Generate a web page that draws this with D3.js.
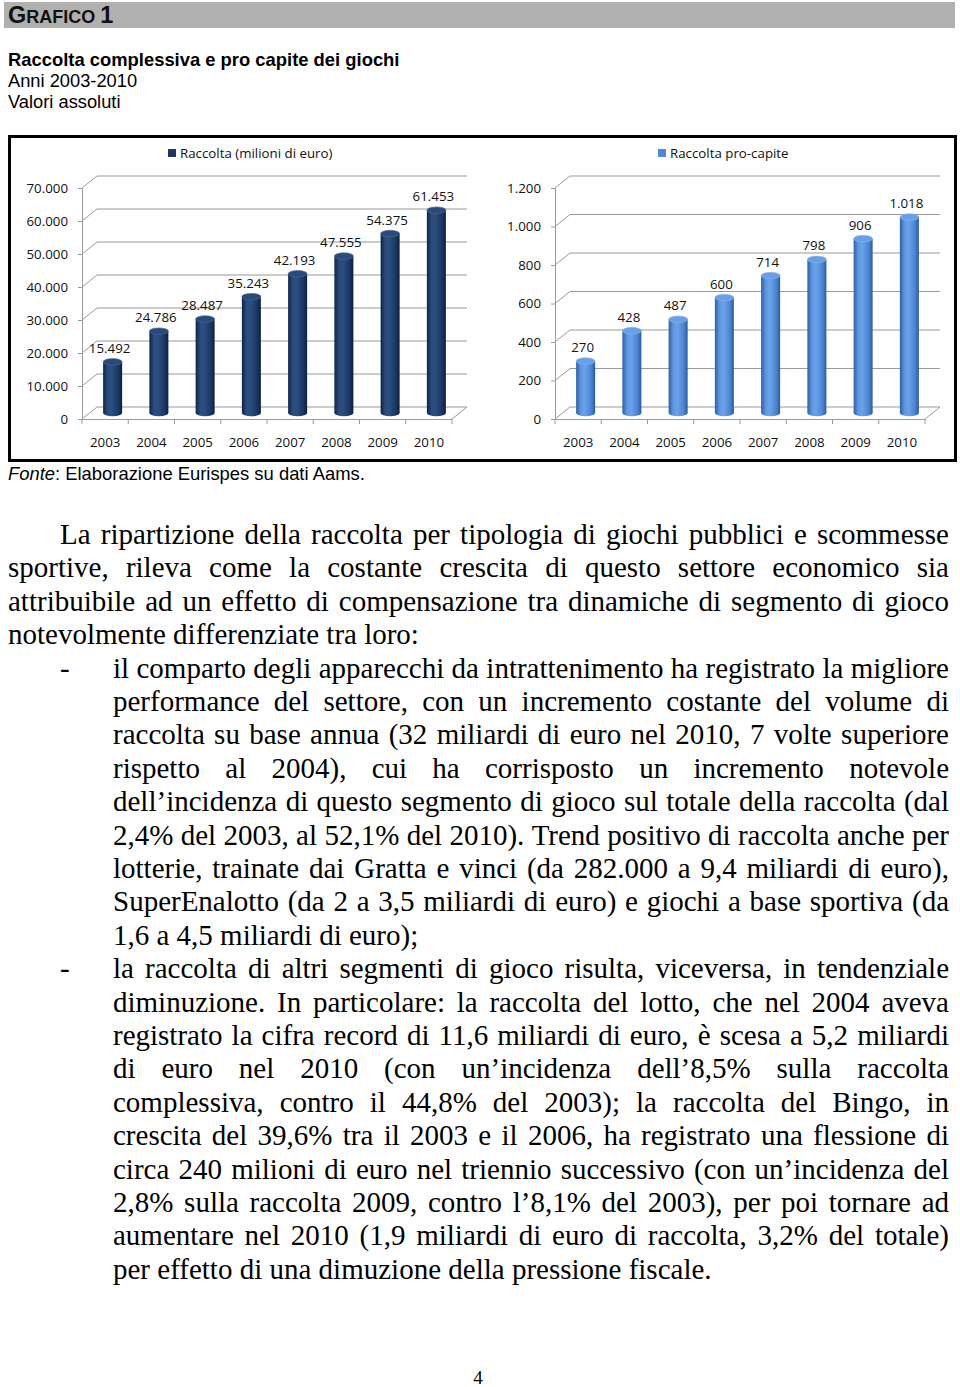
<!DOCTYPE html>
<html>
<head>
<meta charset="utf-8">
<script src="https://cdn.jsdelivr.net/npm/d3@7"></script>
<style>
html,body{margin:0;padding:0;background:#fff;}
svg{display:block;}
</style>
</head>
<body>
<svg id="page" width="960" height="1387"></svg>
<script>
// ---- DATA ----
const years = ["2003","2004","2005","2006","2007","2008","2009","2010"];
const raccolta = [15492, 24786, 28487, 35243, 42193, 47555, 54375, 61453];
const proCapite = [270, 428, 487, 600, 714, 798, 906, 1018];
const leftTicks = [0, 10000, 20000, 30000, 40000, 50000, 60000, 70000];
const rightTicks = [0, 200, 400, 600, 800, 1000, 1200];
const leftLegend = "Raccolta (milioni di euro)";
const rightLegend = "Raccolta pro-capite";

const bodyLines = [
  {t:"La ripartizione della raccolta per tipologia di giochi pubblici e scommesse", x:60, j:true},
  {t:"sportive, rileva come la costante crescita di questo settore economico sia", x:8, j:true},
  {t:"attribuibile ad un effetto di compensazione tra dinamiche di segmento di gioco", x:8, j:true},
  {t:"notevolmente differenziate tra loro:", x:8, j:false},
  {t:"il comparto degli apparecchi da intrattenimento ha registrato la migliore", x:113, j:true, b:true},
  {t:"performance del settore, con un incremento costante del volume di", x:113, j:true},
  {t:"raccolta su base annua (32 miliardi di euro nel 2010, 7 volte superiore", x:113, j:true},
  {t:"rispetto al 2004), cui ha corrisposto un incremento notevole", x:113, j:true},
  {t:"dell’incidenza di questo segmento di gioco sul totale della raccolta (dal", x:113, j:true},
  {t:"2,4% del 2003, al 52,1% del 2010). Trend positivo di raccolta anche per", x:113, j:true},
  {t:"lotterie, trainate dai Gratta e vinci  (da 282.000 a 9,4 miliardi di euro),", x:113, j:true},
  {t:"SuperEnalotto (da 2 a 3,5 miliardi di euro) e giochi a base sportiva (da", x:113, j:true},
  {t:"1,6 a 4,5 miliardi di euro);", x:113, j:false},
  {t:"la raccolta di altri segmenti di gioco risulta, viceversa, in tendenziale", x:113, j:true, b:true},
  {t:"diminuzione. In particolare: la raccolta del lotto, che nel 2004 aveva", x:113, j:true},
  {t:"registrato la cifra record di 11,6 miliardi di euro, è scesa a 5,2 miliardi", x:113, j:true},
  {t:"di euro nel 2010 (con un’incidenza dell’8,5% sulla raccolta", x:113, j:true},
  {t:"complessiva, contro il 44,8% del 2003); la raccolta del Bingo, in", x:113, j:true},
  {t:"crescita del 39,6% tra il 2003 e il 2006, ha registrato una flessione di", x:113, j:true},
  {t:"circa 240 milioni di euro nel triennio successivo (con un’incidenza del", x:113, j:true},
  {t:"2,8% sulla raccolta 2009, contro l’8,1% del 2003), per poi tornare ad", x:113, j:true},
  {t:"aumentare nel 2010 (1,9 miliardi di euro di raccolta, 3,2% del totale)", x:113, j:true},
  {t:"per effetto di una dimuzione della pressione fiscale.", x:113, j:false}
];

// ---- RENDER ----
const svg = d3.select("#page");
const it = d3.formatLocale({decimal:",", thousands:".", grouping:[3], currency:["€",""]});
const fmt = it.format(",d");
const sans = "Liberation Sans, Arial, sans-serif";

// header band
svg.append("rect").attr("x",4).attr("y",2).attr("width",951).attr("height",26).attr("fill","#b0b0b0");
const hdr = svg.append("text").attr("x",8).attr("y",23)
  .attr("font-family",sans).attr("font-weight","bold").attr("fill","#111");
hdr.append("tspan").attr("font-size",23.5).text("G");
hdr.append("tspan").attr("font-size",18).text("RAFICO ");
hdr.append("tspan").attr("font-size",23.5).text("1");

svg.append("text").attr("x",8).attr("y",66).attr("font-family",sans)
  .attr("font-weight","bold").attr("font-size",18.4).text("Raccolta complessiva e pro capite dei giochi");
svg.append("text").attr("x",8).attr("y",87).attr("font-family",sans)
  .attr("font-size",18.3).text("Anni 2003-2010");
svg.append("text").attr("x",8).attr("y",108).attr("font-family",sans)
  .attr("font-size",18.3).text("Valori assoluti");

// chart box
svg.append("rect").attr("x",9.5).attr("y",136.5).attr("width",946).attr("height",324)
  .attr("fill","none").attr("stroke","#000").attr("stroke-width",3);

const fonte = svg.append("text").attr("x",8).attr("y",480).attr("font-family",sans)
  .attr("font-size",18.4);
fonte.append("tspan").attr("font-style","italic").text("Fonte");
fonte.append("tspan").text(": Elaborazione Eurispes su dati Aams.");

// gradients
const defs = svg.append("defs");
function grad(id, stops){
  const g = defs.append("linearGradient").attr("id",id).attr("x1","0").attr("x2","1").attr("y1","0").attr("y2","0");
  stops.forEach(s=>g.append("stop").attr("offset",s[0]).attr("stop-color",s[1]));
}
grad("gDark",[[0,"#0f2346"],[0.25,"#2a4c7e"],[0.45,"#2b4e80"],[0.8,"#1a3663"],[1,"#0c1f40"]]);
grad("gLight",[[0,"#2d5fa6"],[0.25,"#5f98e2"],[0.45,"#6aa2ea"],[0.8,"#4a84d2"],[1,"#2a5aa0"]]);

const DX = 15, DY = -12;
const fontAx = "Open Sans, DejaVu Sans, sans-serif";

function drawChart(cfg){
  const g = svg.append("g");
  const x = d3.scaleBand().domain(years).range([cfg.x0, cfg.x1]).padding(0);
  const y = d3.scaleLinear().domain([0, cfg.max]).range([419, 188]);
  // gridlines on back wall
  g.selectAll("line.grid").data(cfg.ticks).join("line")
    .attr("x1", cfg.x0 + DX).attr("x2", cfg.x1 + DX)
    .attr("y1", d=>y(d)+DY).attr("y2", d=>y(d)+DY)
    .attr("stroke","#9a9a9a").attr("stroke-width",1.2);
  // side diagonals
  g.selectAll("line.diag").data(cfg.ticks).join("line")
    .attr("x1", cfg.x0).attr("x2", cfg.x0 + DX)
    .attr("y1", d=>y(d)).attr("y2", d=>y(d)+DY)
    .attr("stroke","#9a9a9a").attr("stroke-width",1);
  // floor right diagonal
  g.append("line").attr("x1",cfg.x1).attr("x2",cfg.x1+DX).attr("y1",y(0)).attr("y2",y(0)+DY)
    .attr("stroke","#9a9a9a").attr("stroke-width",1);
  // y axis
  const ya = d3.axisLeft(y).tickValues(cfg.ticks).tickFormat(fmt).tickSize(4).tickPadding(10);
  const yg = g.append("g").attr("transform",`translate(${cfg.x0},0)`).call(ya);
  yg.select(".domain").attr("stroke","#9a9a9a");
  yg.selectAll(".tick line").attr("stroke","#9a9a9a");
  yg.selectAll("text").attr("font-family",fontAx).attr("font-size",13.3).attr("fill","#111");
  // x axis
  const xa = d3.axisBottom(x).tickSize(0).tickPadding(19);
  const xg = g.append("g").attr("transform",`translate(0,${y(0)})`).call(xa);
  xg.select(".domain").attr("stroke","#9a9a9a");
  xg.selectAll("text").attr("font-family",fontAx).attr("font-size",13.3).attr("fill","#111");
  // x ticks at band boundaries
  const bounds = years.map(d=>x(d)).concat([cfg.x1]);
  g.selectAll("line.xt").data(bounds).join("line")
    .attr("x1",d=>d).attr("x2",d=>d).attr("y1",y(0)).attr("y2",y(0)+5)
    .attr("stroke","#9a9a9a");
  // bars (cylinders)
  const bw = 19, ry = 3.3;
  const cx = d => x(d) + x.bandwidth()/2 + DX/2;
  const bars = g.selectAll("g.bar").data(years.map((d,i)=>({k:d,v:cfg.vals[i]}))).join("g");
  bars.append("ellipse").attr("cx",d=>cx(d.k)).attr("cy",y(0)+DY/2).attr("rx",bw/2).attr("ry",ry)
    .attr("fill",`url(#${cfg.grad})`);
  bars.append("rect").attr("x",d=>cx(d.k)-bw/2).attr("width",bw)
    .attr("y",d=>y(d.v)+DY/2).attr("height",d=>y(0)-y(d.v))
    .attr("fill",`url(#${cfg.grad})`);
  bars.append("ellipse").attr("cx",d=>cx(d.k)).attr("cy",d=>y(d.v)+DY/2).attr("rx",bw/2).attr("ry",ry)
    .attr("fill",cfg.top).attr("stroke",cfg.topStroke).attr("stroke-width",0.6);
  // value labels
  bars.append("text").attr("x",d=>cx(d.k)-3).attr("y",d=>y(d.v)+DY/2-9)
    .attr("text-anchor","middle").attr("font-family",fontAx).attr("font-size",13.3).attr("fill","#111")
    .text(d=>fmt(d.v));
  // legend
  g.append("rect").attr("x",cfg.lx).attr("y",149).attr("width",8).attr("height",8).attr("fill",cfg.legend);
  g.append("text").attr("x",cfg.lx+12).attr("y",158).attr("font-family",fontAx).attr("font-size",13.3)
    .attr("fill","#111").text(cfg.label);
}

drawChart({x0:82, x1:452, max:70000, ticks:leftTicks, vals:raccolta, grad:"gDark",
  top:"#2b4a78", topStroke:"#4a6a98", legend:"#1d3864", lx:168, label:leftLegend});
drawChart({x0:555, x1:925, max:1200, ticks:rightTicks, vals:proCapite, grad:"gLight",
  top:"#6a9fe6", topStroke:"#8cb8f0", legend:"#4f88d4", lx:658, label:rightLegend});

// ---- body text (justified) ----
const bodyFont = "Liberation Serif, Times New Roman, serif";
const FS = 29, LH = 33.4, B0 = 544, RIGHT = 949;
const tg = svg.append("g").attr("font-family",bodyFont).attr("font-size",FS).attr("fill","#000");
bodyLines.forEach((ln,i)=>{
  const yb = B0 + i*LH;
  if (ln.b) tg.append("text").attr("x",60).attr("y",yb).text("-");
  const words = ln.t.split(/\s+/);
  if (!ln.j){ tg.append("text").attr("x",ln.x).attr("y",yb).text(ln.t); return; }
  const els = words.map(w=>tg.append("text").attr("y",yb).text(w));
  const widths = els.map(e=>e.node().getComputedTextLength());
  const total = d3.sum(widths);
  const gap = (RIGHT - ln.x - total)/(words.length-1);
  let cx = ln.x;
  els.forEach((e,k)=>{ e.attr("x",cx); cx += widths[k] + gap; });
});

svg.append("text").attr("x",478).attr("y",1384).attr("text-anchor","middle")
  .attr("font-family",bodyFont).attr("font-size",19).text("4");
</script>
</body>
</html>
